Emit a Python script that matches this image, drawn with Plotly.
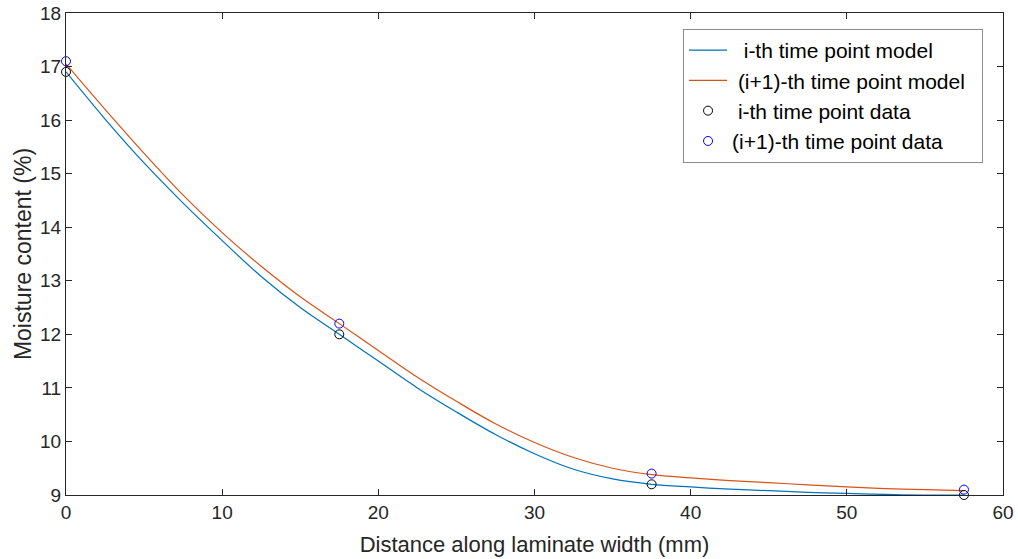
import plotly.graph_objects as go

# Model curves
x_model = [0, 2.5, 5, 7.5, 10, 12.5, 15, 17.5, 20, 22.5, 25, 27.5, 30, 32.5,
           35, 37.5, 40, 42.5, 45, 47.5, 50, 52.5, 55, 57.5]
y_model_i = [16.9, 16.02, 15.2, 14.45, 13.75, 13.08, 12.5, 12.0, 11.5, 11.0,
             10.55, 10.13, 9.77, 9.48, 9.3, 9.2, 9.15, 9.11, 9.08, 9.05,
             9.03, 9.01, 9.0, 9.0]
y_model_i1 = [17.05, 16.2, 15.38, 14.6, 13.9, 13.27, 12.7, 12.2, 11.7, 11.2,
              10.75, 10.33, 9.98, 9.7, 9.5, 9.38, 9.32, 9.27, 9.23, 9.19,
              9.15, 9.12, 9.1, 9.08]

# Measured data
x_data = [0, 17.5, 37.5, 57.5]
y_data_i = [16.9, 12.0, 9.2, 9.0]
y_data_i1 = [17.1, 12.2, 9.4, 9.1]

x_ticks = [0, 10, 20, 30, 40, 50, 60]
y_ticks = [9, 10, 11, 12, 13, 14, 15, 16, 17, 18]

NB = "\u00a0"
fig = go.Figure()
fig.add_trace(go.Scatter(x=x_model, y=y_model_i, mode="lines", line_shape="spline",
                         line=dict(color="#0072BD", width=1.2),
                         name=NB * 2 + "i-th time point model"))
fig.add_trace(go.Scatter(x=x_model, y=y_model_i1, mode="lines", line_shape="spline",
                         line=dict(color="#D95319", width=1.2),
                         name=NB + "(i+1)-th time point model" + NB * 2))
fig.add_trace(go.Scatter(x=x_data, y=y_data_i, mode="markers", cliponaxis=False,
                         marker=dict(symbol="circle-open", size=9, color="black",
                                     line=dict(width=1)),
                         name=NB + "i-th time point data"))
fig.add_trace(go.Scatter(x=x_data, y=y_data_i1, mode="markers", cliponaxis=False,
                         marker=dict(symbol="circle-open", size=9, color="#0000FF",
                                     line=dict(width=1)),
                         name="(i+1)-th time point data"))

axis_common = dict(showline=True, linecolor="#262626", linewidth=1, mirror="ticks",
                   ticks="inside", ticklen=6, tickcolor="#262626", showgrid=False,
                   zeroline=False, tickfont=dict(size=19, color="#262626"),
                   ticklabeloverflow="allow", automargin=False)
fig.update_xaxes(range=[0, 60], tickvals=x_ticks, **axis_common,
                 title=dict(text="Distance along laminate width (mm)",
                            font=dict(size=22, color="#262626"), standoff=14))
fig.update_yaxes(range=[9, 18], tickvals=y_ticks, **axis_common,
                 title=dict(text="Moisture content (%)",
                            font=dict(size=23, color="#262626"), standoff=2))

fig.update_layout(
    width=1018, height=559,
    margin=dict(l=66, r=15, t=13, b=64),
    paper_bgcolor="white", plot_bgcolor="white",
    font=dict(family="Liberation Sans, Arial, sans-serif", color="#262626"),
    showlegend=True,
    legend=dict(x=0.9787, y=0.967, xanchor="right", yanchor="top",
                bgcolor="white", bordercolor="#8c8c8c", borderwidth=1,
                itemwidth=38,
                font=dict(size=21, color="#000000"), tracegroupgap=0),
)

fig.write_html("out.html")
